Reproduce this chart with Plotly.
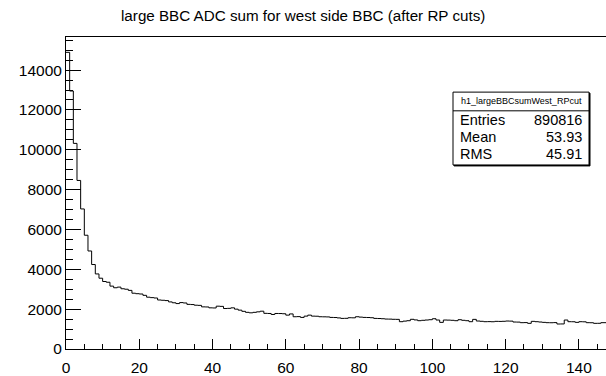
import plotly.graph_objects as go

# ---- data ----
bin_edges_start = 0
bin_width = 1
counts = [
    14890, 12950, 10320, 8460, 7030, 5710, 4920, 4240, 3768, 3553,
    3388, 3350, 3156, 3074, 3107, 3024, 3000, 2942, 2800, 2776,
    2760, 2694, 2600, 2578, 2560, 2460, 2446, 2430, 2363, 2320,
    2280, 2330, 2310, 2240, 2231, 2198, 2190, 2115, 2110, 2066,
    2060, 2149, 2140, 2032, 2040, 2066, 2000, 1950, 1890, 1840,
    1816, 1840, 1865, 1898, 1790, 1783, 1733, 1783, 1780, 1770,
    1700, 1760, 1619, 1625, 1585, 1650, 1700, 1650, 1645, 1619,
    1615, 1610, 1585, 1580, 1560, 1536, 1540, 1570, 1565, 1619,
    1600, 1585, 1580, 1570, 1536, 1530, 1520, 1503, 1500, 1490,
    1487, 1371, 1400, 1420, 1490, 1460, 1421, 1440, 1454, 1470,
    1520, 1454, 1337, 1454, 1450, 1440, 1421, 1470, 1440, 1421,
    1371, 1487, 1404, 1390, 1371, 1375, 1368, 1388, 1385, 1390,
    1404, 1400, 1354, 1350, 1321, 1325, 1288, 1388, 1371, 1354,
    1337, 1321, 1318, 1325, 1255, 1258, 1454, 1371, 1368, 1337,
    1371, 1365, 1321, 1318, 1288, 1290, 1321,
]
title_text = "large BBC ADC sum for west side BBC (after RP cuts)"
stats_name = "h1_largeBBCsumWest_RPcut"
stats_labels = ["Entries", "Mean", "RMS"]
stats_values = ["890816", "53.93", "45.91"]
x_max = 147.4
y_max = 15660

# ---- build step line ----
xs = [bin_edges_start + i * bin_width for i in range(len(counts))] + [x_max]
ys = counts + [counts[-1]]

FONT = "Liberation Sans, Arial, Helvetica, sans-serif"
W, H = 606, 376
L, R, T, B = 66, 0, 37, 22


def PX(x):
    return (x - L) / (W - L - R)


def PY(y):
    return (H - B - y) / (H - T - B)


fig = go.Figure()
fig.add_trace(go.Scatter(
    x=xs, y=ys, mode="lines",
    line=dict(color="black", width=1, shape="hv"),
    hoverinfo="skip", showlegend=False,
))

fig.update_layout(
    width=W, height=H,
    margin=dict(l=L, r=R, t=T, b=B),
    paper_bgcolor="white", plot_bgcolor="white",
    font=dict(family=FONT, color="black"),
    showlegend=False,
)
fig.update_xaxes(
    range=[0, x_max], dtick=20, tick0=0,
    ticks="inside", ticklen=10, tickcolor="black", tickwidth=1,
    minor=dict(dtick=5, tick0=0, ticks="inside", ticklen=5, tickcolor="black"),
    showgrid=False, zeroline=False,
    showline=True, linecolor="black", linewidth=1, mirror=True,
    tickfont=dict(size=15.5, family=FONT, color="black"),
    ticklabelstandoff=4,
)
fig.update_yaxes(
    range=[0, y_max], dtick=2000, tick0=0, tickformat="d",
    ticks="inside", ticklen=15, tickcolor="black", tickwidth=1,
    minor=dict(dtick=500, tick0=0, ticks="inside", ticklen=7, tickcolor="black"),
    showgrid=False, zeroline=False,
    showline=True, linecolor="black", linewidth=1, mirror=False,
    tickfont=dict(size=15.5, family=FONT, color="black"),
)

# title
fig.add_annotation(
    x=PX(303), y=PY(15), xref="paper", yref="paper",
    text=title_text, showarrow=False,
    xanchor="center", yanchor="middle",
    font=dict(size=15.2, family=FONT, color="black"),
)

# stats box
bx0, bx1, by0, by1, bsep = 453, 589, 93, 167, 112
fig.add_shape(type="rect", xref="paper", yref="paper",
              x0=PX(bx0 + 1), x1=PX(bx1 + 1), y0=PY(by1 + 1), y1=PY(by0 + 1),
              line=dict(color="black", width=1), fillcolor="black", layer="above")
fig.add_shape(type="rect", xref="paper", yref="paper",
              x0=PX(bx0), x1=PX(bx1), y0=PY(by1), y1=PY(by0),
              line=dict(color="black", width=1), fillcolor="white", layer="above")
fig.add_shape(type="line", xref="paper", yref="paper",
              x0=PX(bx0), x1=PX(bx1), y0=PY(bsep), y1=PY(bsep),
              line=dict(color="black", width=1), layer="above")
fig.add_annotation(
    x=PX((bx0 + bx1) / 2), y=PY(102.5), xref="paper", yref="paper",
    text=stats_name, showarrow=False, xanchor="center", yanchor="middle",
    font=dict(size=9, family=FONT, color="black"),
)
row_y = [121.5, 138.5, 155.5]
for lab, val, ry in zip(stats_labels, stats_values, row_y):
    fig.add_annotation(
        x=PX(458), y=PY(ry), xref="paper", yref="paper",
        text=lab, showarrow=False, xanchor="left", yanchor="middle",
        font=dict(size=14.5, family=FONT, color="black"),
    )
    fig.add_annotation(
        x=PX(584), y=PY(ry), xref="paper", yref="paper",
        text=val, showarrow=False, xanchor="right", yanchor="middle",
        font=dict(size=14.5, family=FONT, color="black"),
    )

fig.write_html("out.html")
